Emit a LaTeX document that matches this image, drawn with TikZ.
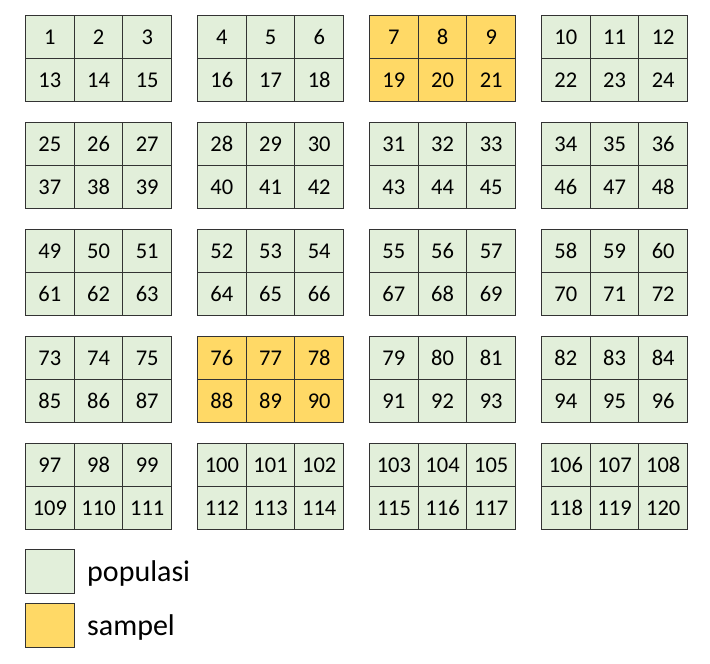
\documentclass[tikz,border=0pt]{standalone}
\usepackage{fontspec}
\setmainfont{Carlito}
\definecolor{popgreen}{HTML}{E2EFDA}
\definecolor{samporange}{HTML}{FFD966}
\definecolor{edgegray}{HTML}{333333}
\begin{document}
\begin{tikzpicture}[x=1pt,y=-1pt,
  cellbox/.style={draw=edgegray, line width=1.1pt, fill=popgreen, minimum width=48.67pt, minimum height=43pt, inner sep=0pt, anchor=north west, font=\fontsize{22.5}{26}\selectfont, text=black},
  samplebox/.style={cellbox, fill=samporange},
  legendbox/.style={draw=edgegray, line width=1.1pt, minimum width=49pt, minimum height=44pt, inner sep=0pt, anchor=north west},
  legendtext/.style={anchor=west, inner sep=0pt, font=\fontsize{30}{34}\selectfont, text=black}]
\useasboundingbox (0,0) rectangle (710,664);
\foreach \r in {0,...,4}{
  \foreach \c in {0,...,3}{
    \pgfmathtruncatemacro{\issample}{(\r==0 && \c==2) || (\r==3 && \c==1) ? 1 : 0}
    \ifnum\issample=1 \def\sty{samplebox}\else\def\sty{cellbox}\fi
    \foreach \j in {0,1,2}{
      \pgfmathtruncatemacro{\ntop}{24*\r+3*\c+\j+1}
      \pgfmathtruncatemacro{\nbot}{24*\r+12+3*\c+\j+1}
      \node[\sty] (c\ntop) at ({25+172*\c+48.67*\j},{15+107*\r}) {\ntop};
      \node[\sty] (c\nbot) at ({25+172*\c+48.67*\j},{58+107*\r}) {\nbot};
    }
  }
}
\node[legendbox, fill=popgreen] (lpop) at (25,549) {};
\node[legendbox, fill=samporange] (lsam) at (25,603) {};
\node[legendtext] (tpop) at (87,573) {populasi};
\node[legendtext] (tsam) at (87,627) {sampel};
\end{tikzpicture}
\end{document}
